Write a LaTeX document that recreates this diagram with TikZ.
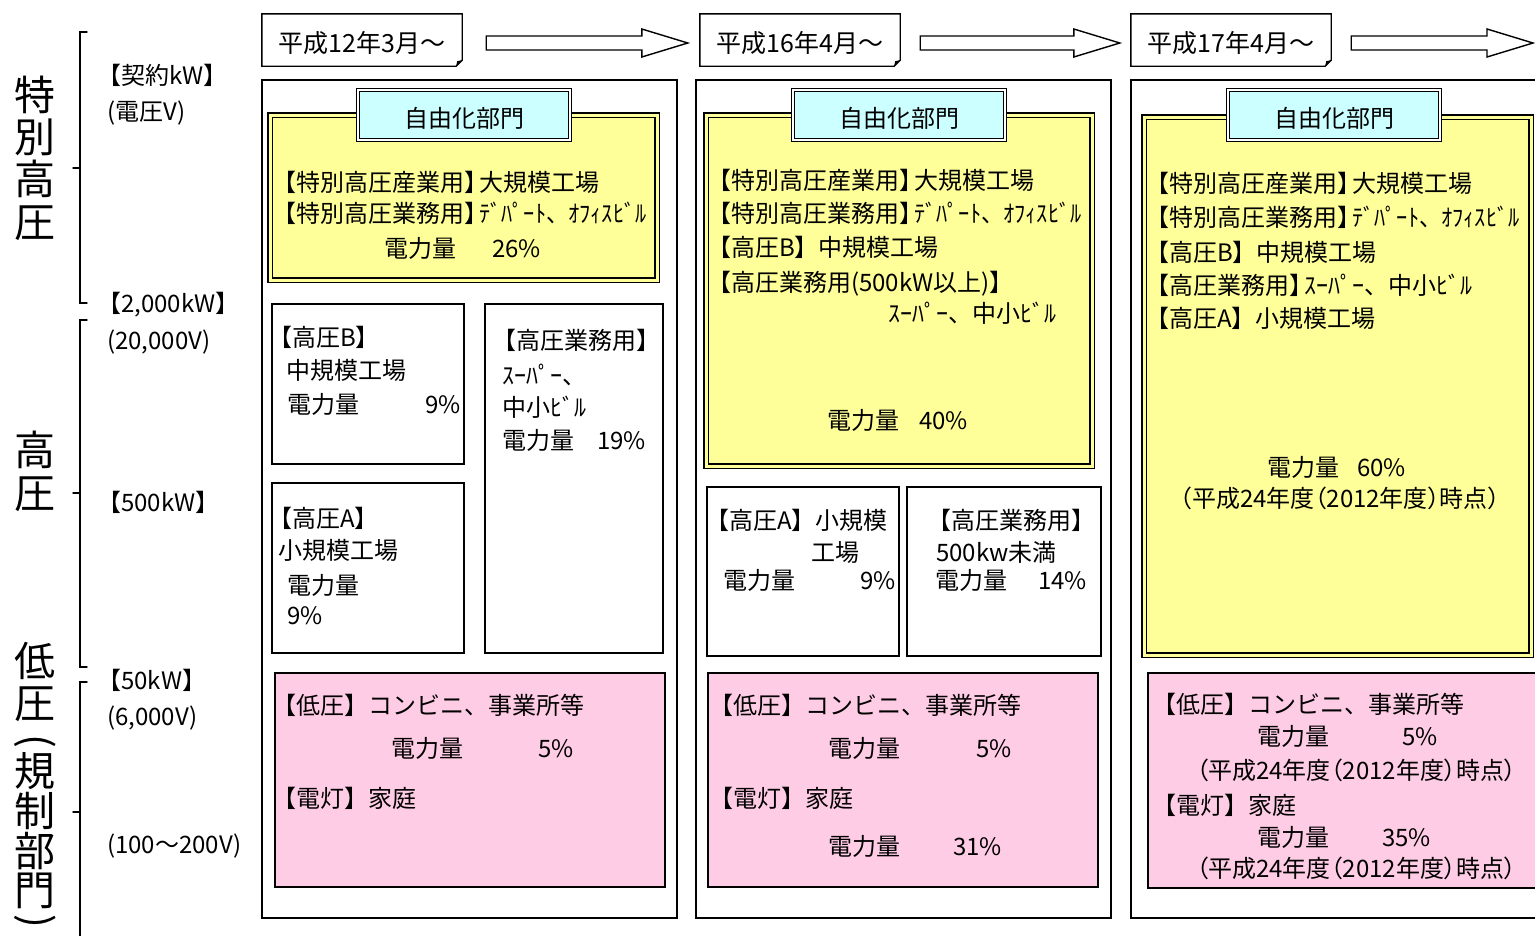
\documentclass[tikz,border=0pt]{standalone}
\usepackage{fontspec}
\usepackage{graphicx}
\setmainfont{Noto Sans CJK JP}
\newfontfamily\jpp[RawFeature=+palt]{Noto Sans CJK JP}
\usetikzlibrary{calc}
\definecolor{yel}{HTML}{FFFF99}
\definecolor{cya}{HTML}{CCFFFF}
\definecolor{pnk}{HTML}{FFCCE5}
\newcommand\hk[1]{\kern-9pt\scalebox{0.93}[1]{#1}}
\newcommand\jt{{\jpp （平成24年度（2012年度）時点）}}
\newcommand\blkarrow[2]{\draw[barrow] ($(#1)+(0,-7)$) -- ($(#2)+(-46,-7)$) -- ($(#2)+(-46,-14)$) -- (#2) -- ($(#2)+(-46,14)$) -- ($(#2)+(-46,7)$) -- ($(#1)+(0,7)$) -- cycle;}
\newcommand\hdrbox[1]{\draw[frm] (#1.north west) -- (#1.north east) -- ($(#1.south east)+(0,-6)$) -- ($(#1.south east)+(-6,0)$) -- (#1.south west) -- cycle;
 \fill ($(#1.south east)+(-6,0)$) -- ($(#1.south east)+(0,-6)$) -- ($(#1.south east)+(-5,-5)$) -- cycle;}
\begin{document}
\begin{tikzpicture}[x=1pt,y=-1pt,
 every node/.style={inner sep=0pt},
 tx/.style={anchor=west, text height=21pt, text depth=3pt, font=\fontsize{24}{28}\selectfont},
 txe/.style={tx, anchor=east},
 txc/.style={tx, anchor=center},
 big/.style={anchor=center, text height=36pt, text depth=5pt, font=\fontsize{41}{45}\selectfont},
 vpar/.style={anchor=center, rotate=-90, text height=32pt, text depth=7.5pt, font=\fontsize{41}{45}\selectfont},
 hdr/.style={minimum width=200pt, minimum height=52pt, text height=25pt, text depth=0pt, font=\fontsize{25}{28}\selectfont},
 lab/.style={draw, line width=1.1pt, double=white, double distance=2.5pt, fill=cya, minimum width=212pt, minimum height=50pt, text height=24pt, text depth=0pt, font=\fontsize{24}{28}\selectfont},
 frm/.style={draw, line width=1.4pt},
 ybx/.style={draw, line width=1.1pt, double=yel, double distance=3pt, fill=yel},
 pbx/.style={draw, line width=1.4pt, fill=pnk},
 wbx/.style={draw, line width=1.4pt, fill=white},
 brk/.style={draw, line width=1.4pt, line cap=round},
 barrow/.style={draw, line width=1.4pt, fill=white, line join=miter},
]
\useasboundingbox (0,0) rectangle (1535,935);
\clip (0,0) rectangle (1535,935);

% ---- left side brackets and labels
\draw[brk] (87,32) -- (80,32) -- (80,303) -- (87,303);
\draw[brk] (73,168) -- (80,168);
\draw[brk] (87,320) -- (80,320) -- (80,667) -- (87,667);
\draw[brk] (73,493) -- (80,493);
\draw[brk] (87,682) -- (80,682) -- (80,945);
\draw[brk] (73,812) -- (80,812);

\foreach \c/\yy/\n in {特/95/v1,別/137/v2,高/179/v3,圧/222/v4,高/450/v5,圧/493/v6,低/661/v7,圧/703/v8,規/771/v10,制/811/v11,部/851/v12,門/890/v13}
  \node[big] (\n) at (35,\yy) {\c};
\node[vpar] (v9) at (35,741) {(};
\node[vpar] (v14) at (35,921) {)};

\node[tx] (s1) at (97,75) {【契約kW】};
\node[tx] (s2) at (107,111) {(電圧V)};
\node[tx] (s3) at (97,303) {【2,000kW】};
\node[tx] (s4) at (107,340) {(20,000V)};
\node[tx] (s5) at (97,502) {【500kW】};
\node[tx] (s6) at (97,680) {【50kW】};
\node[tx] (s7) at (107,716) {(6,000V)};
\node[tx] (s8) at (107,844) {(100～200V)};

% ---- headers and arrows
\node[hdr] (h1) at (362,40) {平成12年3月～};
\node[hdr] (h2) at (800,40) {平成16年4月～};
\node[hdr] (h3) at (1231,40) {平成17年4月～};
\hdrbox{h1}\hdrbox{h2}\hdrbox{h3}
\coordinate (a1s) at ($(h1.east)+(24,3)$);
\coordinate (a1e) at ($(h2.west)+(-12,3)$);
\coordinate (a2s) at ($(h2.east)+(20,3)$);
\coordinate (a2e) at ($(h3.west)+(-11,3)$);
\coordinate (a3s) at ($(h3.east)+(20,3)$);
\coordinate (a3e) at (1533,43);
\blkarrow{a1s}{a1e}
\blkarrow{a2s}{a2e}
\blkarrow{a3s}{a3e}

% ---- column 1
\draw[frm] (262,80) rectangle (677,918);
\draw[ybx] (270,115) rectangle (657,280);
\node[lab] (l1) at (464,115) {自由化部門};
\node[tx] (c1a) at (272,182) {【特別高圧産業用】\kern-9pt 大規模工場};
\node[tx] (c1b) at (272,213) {【特別高圧業務用】\hk{ﾃﾞﾊﾟｰﾄ、ｵﾌｨｽﾋﾞﾙ}};
\node[tx] (c1c) at (384,248) {電力量\hspace{36pt}26\%};
\draw[wbx] (272,304) rectangle (464,464);
\node[tx] (c1d) at (268,337) {【高圧B】};
\node[tx] (c1e) at (286,370) {中規模工場};
\node[tx] (c1f) at (287,404) {電力量};
\node[txe] (c1g) at (461,404) {9\%};
\draw[wbx] (485,304) rectangle (663,653);
\node[tx] (c1h) at (492,340) {【高圧業務用】};
\node[tx] (c1i) at (502,375) {ｽｰﾊﾟｰ、};
\node[tx] (c1j) at (502,407) {中小ﾋﾞﾙ};
\node[tx] (c1k) at (502,440) {電力量\hspace{23pt}19\%};
\draw[wbx] (272,483) rectangle (464,653);
\node[tx] (c1l) at (268,518) {【高圧A】};
\node[tx] (c1m) at (278,550) {小規模工場};
\node[tx] (c1n) at (287,585) {電力量};
\node[tx] (c1o) at (287,615) {9\%};
\draw[pbx] (275,673) rectangle (665,887);
\node[tx] (c1p) at (272,705) {【低圧】コンビニ、事業所等};
\node[tx] (c1q) at (391,748) {電力量\hspace{75pt}5\%};
\node[tx] (c1r) at (272,798) {【電灯】家庭};

% ---- column 2
\draw[frm] (696,80) rectangle (1111,918);
\draw[ybx] (706,115) rectangle (1092,466);
\node[lab] (l2) at (899,115) {自由化部門};
\node[tx] (c2a) at (707,180) {【特別高圧産業用】\kern-9pt 大規模工場};
\node[tx] (c2b) at (707,213) {【特別高圧業務用】\hk{ﾃﾞﾊﾟｰﾄ、ｵﾌｨｽﾋﾞﾙ}};
\node[tx] (c2c) at (707,247) {【高圧B】中規模工場};
\node[tx] (c2d) at (707,282) {【高圧業務用(500kW以上)】};
\node[tx] (c2e) at (888,313) {ｽｰﾊﾟｰ、中小ﾋﾞﾙ};
\node[tx] (c2f) at (827,420) {電力量\hspace{20pt}40\%};
\draw[wbx] (707,487) rectangle (899,656);
\node[tx] (c2g) at (705,520) {【高圧A】小規模};
\node[tx] (c2h) at (811,552) {工場};
\node[tx] (c2i) at (723,580) {電力量};
\node[txe] (c2j) at (896,580) {9\%};
\draw[wbx] (907,487) rectangle (1101,656);
\node[tx] (c2k) at (927,520) {【高圧業務用】};
\node[tx] (c2l) at (936,552) {500kw未満};
\node[tx] (c2m) at (935,580) {電力量\hspace{31pt}14\%};
\draw[pbx] (708,673) rectangle (1098,887);
\node[tx] (c2n) at (709,705) {【低圧】コンビニ、事業所等};
\node[tx] (c2o) at (828,748) {電力量\hspace{76pt}5\%};
\node[tx] (c2p) at (709,798) {【電灯】家庭};
\node[tx] (c2q) at (828,846) {電力量\hspace{53pt}31\%};

% ---- column 3
\draw[frm] (1131,80) rectangle (1600,918);
\draw[ybx] (1144,117) rectangle (1531,655);
\node[lab] (l3) at (1334,115) {自由化部門};
\node[tx] (c3a) at (1145,183) {【特別高圧産業用】\kern-9pt 大規模工場};
\node[tx] (c3b) at (1145,217) {【特別高圧業務用】\hk{ﾃﾞﾊﾟｰﾄ、ｵﾌｨｽﾋﾞﾙ}};
\node[tx] (c3c) at (1145,252) {【高圧B】中規模工場};
\node[tx] (c3d) at (1145,285) {【高圧業務用】\kern-9pt ｽｰﾊﾟｰ、中小ﾋﾞﾙ};
\node[tx] (c3e) at (1145,318) {【高圧A】小規模工場};
\node[tx] (c3f) at (1267,467) {電力量\hspace{18pt}60\%};
\node[txc] (c3g) at (1340,498) {\jt};
\draw[pbx] (1148,673) rectangle (1600,888);
\node[tx] (c3h) at (1152,704) {【低圧】コンビニ、事業所等};
\node[tx] (c3i) at (1257,736) {電力量\hspace{73pt}5\%};
\node[tx] (c3j) at (1196,770) {\jt};
\node[tx] (c3k) at (1152,805) {【電灯】家庭};
\node[tx] (c3l) at (1257,837) {電力量\hspace{53pt}35\%};
\node[tx] (c3m) at (1196,868) {\jt};
\end{tikzpicture}
\end{document}
